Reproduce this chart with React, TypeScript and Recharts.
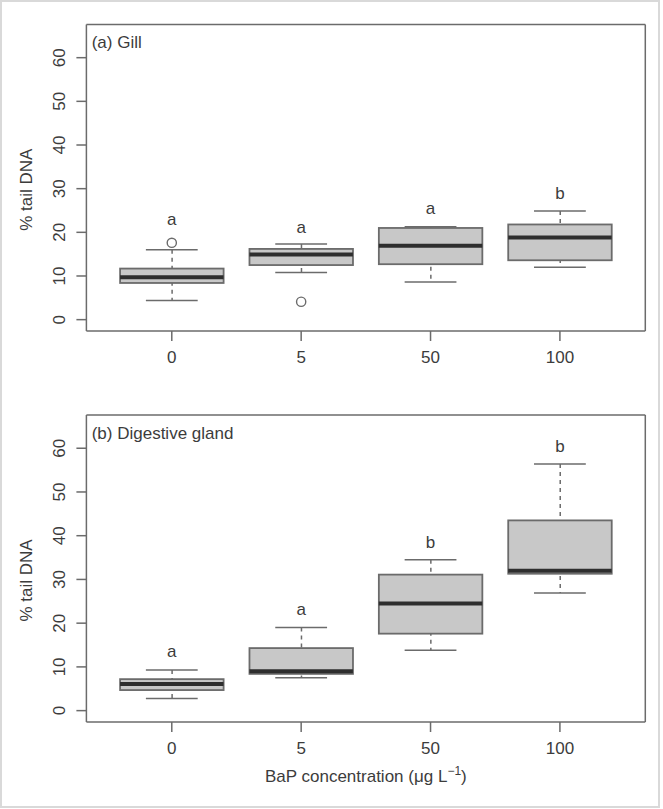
import React from 'react';
import { ComposedChart, Bar, Scatter, XAxis, YAxis } from 'recharts';

// ---------- data ----------
const categories = ['0', '5', '50', '100'];
const yTicks = [0, 10, 20, 30, 40, 50, 60];

const gillMin = [4.4, 10.8, 8.6, 12.0];
const gillQ1 = [8.4, 12.5, 12.7, 13.6];
const gillMedian = [9.7, 14.9, 16.9, 18.8];
const gillQ3 = [11.7, 16.2, 21.0, 21.8];
const gillMax = [16.0, 17.3, 21.3, 24.9];
const gillOutlier = [17.6, 4.1, null, null];
const gillLetters = ['a', 'a', 'a', 'b'];
const gillLetterY = [23.1, 21.3, 25.5, 29.0];

const dgMin = [2.75, 7.5, 13.8, 26.9];
const dgQ1 = [4.7, 8.4, 17.6, 31.3];
const dgMedian = [6.1, 9.0, 24.5, 32.0];
const dgQ3 = [7.2, 14.3, 31.1, 43.5];
const dgMax = [9.3, 19.0, 34.5, 56.4];
const dgOutlier = [null, null, null, null];
const dgLetters = ['a', 'a', 'b', 'b'];
const dgLetterY = [13.7, 23.3, 38.7, 60.5];

// ---------- styles ----------
const CHART_W = 663;
const PLOT_LEFT = 86.4;
const PLOT_RIGHT = 645.3;
const BOX_HALF = 51.75;
const CAP_HALF = 25.9;
const TEXT = '#3c3c3c';
const LINE = '#6b6b6b';
const FONT = '"Liberation Sans", Arial, Helvetica, sans-serif';
const FS = 17;

function buildRows(min, q1, med, q3, max, out, letters, letterY) {
  return categories.map((c, i) => ({
    cat: c,
    whisker: [min[i], max[i]],
    box: [q1[i], q3[i]],
    median: med[i],
    min: min[i],
    max: max[i],
    outlier: out[i],
    letter: letters[i],
    letterY: letterY[i],
  }));
}

const gillRows = buildRows(gillMin, gillQ1, gillMedian, gillQ3, gillMax, gillOutlier, gillLetters, gillLetterY);
const dgRows = buildRows(dgMin, dgQ1, dgMedian, dgQ3, dgMax, dgOutlier, dgLetters, dgLetterY);

// ---------- shapes ----------
const WhiskerShape = (p: any) => {
  const { x, y, width, height } = p;
  if (x == null || y == null) return <g />;
  const top = Math.min(y, y + height);
  const bot = Math.max(y, y + height);
  const cx = x + width / 2;
  return <line x1={cx} x2={cx} y1={top} y2={bot} stroke={LINE} strokeWidth={1.5} strokeDasharray="4 4" />;
};

const BoxShape = (p: any) => {
  const { x, y, width, height } = p;
  if (x == null || y == null) return <g />;
  const top = Math.min(y, y + height);
  const h = Math.abs(height);
  return <rect x={x} y={top} width={width} height={h} fill="#c8c8c8" stroke={LINE} strokeWidth={1.8} />;
};

const MedianShape = (p: any) => {
  const { cx, cy } = p;
  if (cx == null || cy == null || isNaN(cy)) return <g />;
  return <line x1={cx - BOX_HALF} x2={cx + BOX_HALF} y1={cy} y2={cy} stroke="#2e2e2e" strokeWidth={4} />;
};

const CapShape = (p: any) => {
  const { cx, cy } = p;
  if (cx == null || cy == null || isNaN(cy)) return <g />;
  return <line x1={cx - CAP_HALF} x2={cx + CAP_HALF} y1={cy} y2={cy} stroke={LINE} strokeWidth={1.5} />;
};

const OutlierShape = (p: any) => {
  const { cx, cy, payload } = p;
  if (!payload || payload.outlier == null || cx == null || cy == null || isNaN(cy)) return <g />;
  return <circle cx={cx} cy={cy} r={4.6} fill="#ffffff" stroke={LINE} strokeWidth={1.4} />;
};

const LetterShape = (p: any) => {
  const { cx, cy, payload } = p;
  if (cx == null || cy == null || isNaN(cy)) return <g />;
  return (
    <text x={cx} y={cy} dy="0.36em" textAnchor="middle" fontSize={FS} fill={TEXT} fontFamily={FONT}>
      {payload.letter}
    </text>
  );
};

const YTick = (p: any) => {
  const { x, y, payload } = p;
  return (
    <text x={x} y={y} transform={`rotate(-90 ${x} ${y})`} textAnchor="middle" fontSize={FS} fill={TEXT} fontFamily={FONT}>
      {payload.value}
    </text>
  );
};

function Panel({ rows, title, top, height, plotTop, plotBottom, showXTitle }: any) {
  const xAxisHeight = height - plotBottom;
  const pad = { left: 20.7, right: 20.7 };
  const plotCenterY = (plotTop + plotBottom) / 2;
  const axisLine = { stroke: LINE, strokeWidth: 1.5 };

  const YTitle = (lp: any) => {
    const cy = plotCenterY + 12;
    return (
      <text x={32} y={cy} transform={`rotate(-90 32 ${cy})`} textAnchor="middle" fontSize={FS} fill={TEXT} fontFamily={FONT}>
        % tail DNA
      </text>
    );
  };

  const PanelTitle = (lp: any) => (
    <text x={PLOT_LEFT + 5.3} y={plotTop + 23.5} textAnchor="start" fontSize={FS} fill={TEXT} fontFamily={FONT}>
      {title}
    </text>
  );

  const XTitle = (lp: any) => (
    <text x={(PLOT_LEFT + PLOT_RIGHT) / 2} y={plotBottom + 59.5} textAnchor="middle" fontSize={FS} fill={TEXT} fontFamily={FONT}>
      BaP concentration (μg L<tspan dy={-7} fontSize={12}>−1</tspan><tspan dy={7}>)</tspan>
    </text>
  );

  return (
    <div style={{ position: 'absolute', left: 0, top }}>
      <ComposedChart
        width={CHART_W}
        height={height}
        data={rows}
        margin={{ top: plotTop - 1, right: CHART_W - PLOT_RIGHT - 1, bottom: 0, left: 0 }}
      >
        <XAxis
          dataKey="cat"
          type="category"
          padding={pad}
          height={xAxisHeight}
          tickSize={10}
          tickMargin={10}
          tick={{ fontSize: FS, fill: TEXT, fontFamily: FONT }}
          axisLine={axisLine}
          tickLine={axisLine}
          label={showXTitle ? { content: XTitle } : undefined}
        />
        <XAxis
          xAxisId="top"
          orientation="top"
          dataKey="cat"
          type="category"
          padding={pad}
          height={1}
          tick={false}
          tickLine={false}
          axisLine={axisLine}
          label={{ content: PanelTitle }}
        />
        <XAxis xAxisId="w" dataKey="cat" type="category" padding={pad} hide />
        <XAxis xAxisId="b" dataKey="cat" type="category" padding={pad} hide />
        <YAxis
          type="number"
          domain={[-2.6, 67.6]}
          ticks={yTicks}
          allowDataOverflow
          width={PLOT_LEFT}
          tickSize={10}
          tickMargin={11}
          tick={<YTick />}
          axisLine={axisLine}
          tickLine={axisLine}
          label={{ content: YTitle }}
        />
        <YAxis
          yAxisId="r"
          orientation="right"
          type="number"
          domain={[-2.6, 67.6]}
          allowDataOverflow
          width={1}
          tick={false}
          tickLine={false}
          axisLine={axisLine}
        />
        <Bar xAxisId="w" dataKey="whisker" barSize={8} shape={WhiskerShape} isAnimationActive={false} />
        <Bar xAxisId="b" dataKey="box" barSize={103.5} shape={BoxShape} isAnimationActive={false} />
        <Scatter dataKey="median" shape={MedianShape} isAnimationActive={false} />
        <Scatter dataKey="min" shape={CapShape} isAnimationActive={false} />
        <Scatter dataKey="max" shape={CapShape} isAnimationActive={false} />
        <Scatter dataKey="outlier" shape={OutlierShape} isAnimationActive={false} />
        <Scatter dataKey="letterY" shape={LetterShape} isAnimationActive={false} />
      </ComposedChart>
    </div>
  );
}

export default function App() {
  return (
    <div style={{ position: 'absolute', left: 0, top: 0, width: 663, height: 809, background: '#ffffff', fontFamily: FONT }}>
      <div
        style={{
          position: 'absolute',
          left: 0,
          top: 0,
          width: 660,
          height: 808,
          border: '2px solid #d9d9d9',
          boxSizing: 'border-box',
        }}
      />
      <Panel rows={gillRows} title="(a) Gill" top={0} height={400} plotTop={24.5} plotBottom={331} showXTitle={false} />
      <Panel rows={dgRows} title="(b) Digestive gland" top={390} height={419} plotTop={25} plotBottom={332} showXTitle={true} />
    </div>
  );
}
